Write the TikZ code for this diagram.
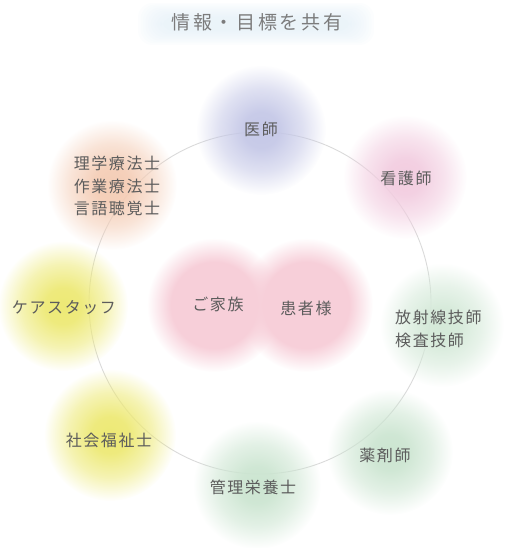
\documentclass[tikz,border=0pt]{standalone}
\usepackage{fontspec}
\setmainfont{Noto Sans CJK JP}
\newfontfamily\jplabel[LetterSpace=10]{Noto Sans CJK JP}
\newfontfamily\jptitle[LetterSpace=14]{Noto Sans CJK JP}
\usetikzlibrary{fadings}

\definecolor{labelgray}{HTML}{5C5C5C}
\definecolor{titlegray}{HTML}{7C7C7C}
\definecolor{ringgray}{HTML}{DADADA}
\definecolor{glowblue}{HTML}{DFEDF6}
\definecolor{lavender}{HTML}{C5C8E7}
\definecolor{nursepink}{HTML}{F2CDE0}
\definecolor{mint}{HTML}{CCE5D1}
\definecolor{lemon}{HTML}{EDE975}
\definecolor{peach}{HTML}{F4CDB6}
\definecolor{rosepink}{HTML}{F7CFD9}

% soft blobs: opaque centre, fading out to the rim (rim sits at 25bp)
\pgfdeclareradialshading{blobmask}{\pgfpointorigin}{color(0bp)=(white); color(7bp)=(white!94!black); color(16bp)=(white!55!black); color(25bp)=(black); color(50bp)=(black)}
\pgfdeclarefading{blobfade}{\pgfuseshading{blobmask}}
\pgfdeclareradialshading{coremask}{\pgfpointorigin}{color(0bp)=(white); color(16bp)=(white); color(25bp)=(black); color(50bp)=(black)}
\pgfdeclarefading{corefade}{\pgfuseshading{coremask}}

\begin{document}
\begin{tikzpicture}[x=1pt, y=-1pt,
    blob/.style={path fading=blobfade},
    core/.style={path fading=corefade, fill=rosepink},
    role/.style={text=labelgray, font=\jplabel\fontsize{16}{22.5}\selectfont, align=center, inner sep=0pt}]
    \useasboundingbox (0, 0) rectangle (506, 548);

    % Title with a soft glow
    \foreach \k in {0,...,9}
        \fill[glowblue, opacity=0.09, rounded corners=14pt] (138+\k*2.5, 3+\k*1.5) rectangle (374-\k*2.5, 45-\k*1.5);
    \node[text=titlegray, font=\jptitle\fontsize{19}{22}\selectfont, inner sep=0pt] (title) at (257, 22) {情報・目標を共有};

    % The ring
    \draw[ringgray, line width=0.9pt] (260, 303) circle (171pt);

    % Blobs round the ring
    \fill[blob, fill=lavender] (261, 130) circle (65pt);
    \fill[blob, fill=nursepink] (405, 177) circle (62pt);
    \fill[blob, fill=mint!85!white] (442, 325) circle (62pt);
    \fill[blob, fill=mint] (390, 452) circle (63pt);
    \fill[blob, fill=mint] (257, 485) circle (64pt);
    \fill[blob, fill=lemon] (110, 435) circle (66pt);
    \fill[blob, fill=lemon] (63, 306) circle (65pt);
    \fill[blob, fill=peach] (112, 185) circle (65pt);

    % Patient and family in the middle
    \fill[core] (214, 305) circle (67pt);
    \fill[core] (306, 305) circle (67pt);

    % Labels
    \node[role] (doctor) at (261, 129) {医師};
    \node[role] (nurse) at (406, 178) {看護師};
    \node[role, anchor=west, align=left] (tech) at (395, 329) {放射線技師\\検査技師};
    \node[role] (pharm) at (385, 455) {薬剤師};
    \node[role] (diet) at (253, 487) {管理栄養士};
    \node[role] (social) at (109, 440) {社会福祉士};
    \node[role] (care) at (64, 308) {ケアスタッフ};
    \node[role] (rehab) at (117, 186) {理学療法士\\作業療法士\\言語聴覚士};
    \node[role] (family) at (218, 304) {ご家族};
    \node[role] (patient) at (306, 308) {患者様};
\end{tikzpicture}
\end{document}
